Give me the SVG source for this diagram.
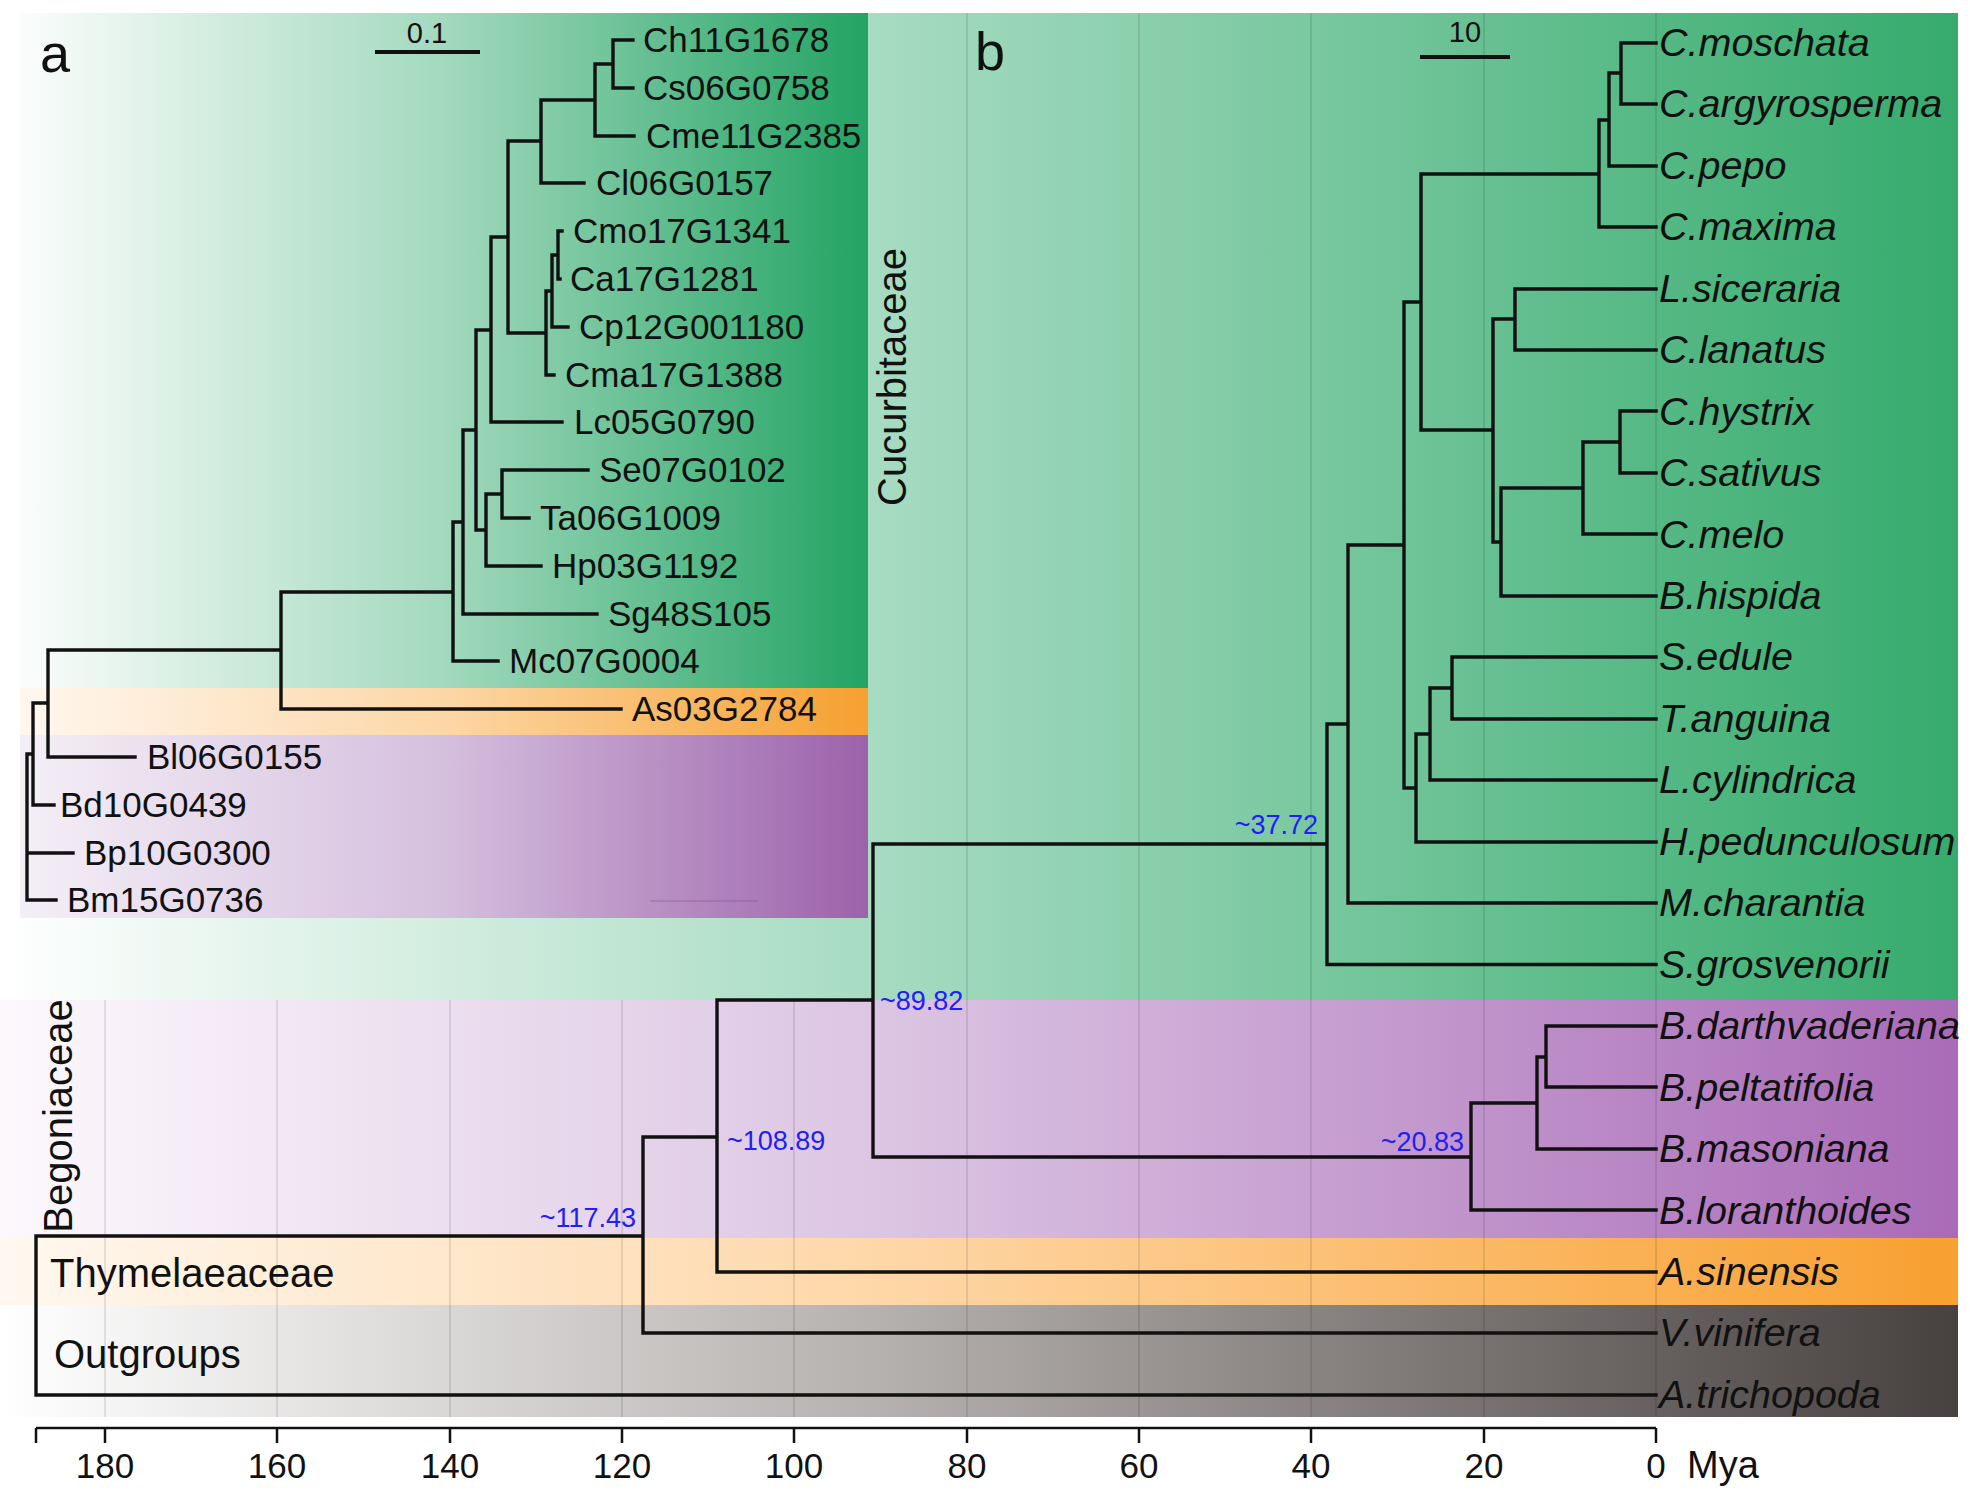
<svg xmlns="http://www.w3.org/2000/svg" width="1970" height="1501" viewBox="0 0 1970 1501">
<defs>
<linearGradient id="gGreenBig" x1="0" y1="0" x2="1" y2="0"><stop offset="0" stop-color="#ffffff"/><stop offset="0.44" stop-color="#a8dcc3"/><stop offset="1" stop-color="#36ab6d"/></linearGradient>
<linearGradient id="gGreenA" x1="0" y1="0" x2="1" y2="0"><stop offset="0" stop-color="#fbfdfc"/><stop offset="0.5" stop-color="#a3d9be"/><stop offset="1" stop-color="#23a364"/></linearGradient>
<linearGradient id="gOrangeA" x1="0" y1="0" x2="1" y2="0"><stop offset="0" stop-color="#fff7ef"/><stop offset="0.5" stop-color="#fcd7a6"/><stop offset="1" stop-color="#f6a030"/></linearGradient>
<linearGradient id="gPurpleA" x1="0" y1="0" x2="1" y2="0"><stop offset="0" stop-color="#f4eff6"/><stop offset="0.5" stop-color="#d5bfde"/><stop offset="1" stop-color="#9c62aa"/></linearGradient>
<linearGradient id="gPurple" x1="0" y1="0" x2="1" y2="0"><stop offset="0" stop-color="#fcf8fc"/><stop offset="0.45" stop-color="#dcc5e3"/><stop offset="1" stop-color="#a96bb7"/></linearGradient>
<linearGradient id="gOrange" x1="0" y1="0" x2="1" y2="0"><stop offset="0" stop-color="#fff8f0"/><stop offset="0.45" stop-color="#fed7a8"/><stop offset="1" stop-color="#f8a030"/></linearGradient>
<linearGradient id="gGray" x1="0" y1="0" x2="1" y2="0"><stop offset="0" stop-color="#ffffff"/><stop offset="0.45" stop-color="#b5b1af"/><stop offset="1" stop-color="#474140"/></linearGradient>
<style>
.t{font-family:"Liberation Sans",Arial,sans-serif;fill:#111}
.la{font-size:35px}
.lb{font-size:38px;font-style:italic}
.big{font-size:54px}
.grp{font-size:40px}
.sc{font-size:29px}
.ax{font-size:35px;text-anchor:middle}
.age{font-family:"Liberation Sans",Arial,sans-serif;font-size:27px;fill:#2020f5}
.br{fill:none;stroke:#111;stroke-width:3.4;stroke-linecap:square}
.grid{stroke:#000;stroke-opacity:0.13;stroke-width:1.5}
</style>
</defs>
<rect width="1970" height="1501" fill="#ffffff"/>
<g id="bands">
<rect x="0" y="13" width="1958" height="987" fill="url(#gGreenBig)"/>
<rect x="0" y="1000" width="1958" height="238" fill="url(#gPurple)"/>
<rect x="0" y="1238" width="1958" height="67" fill="url(#gOrange)"/>
<rect x="0" y="1305" width="1958" height="112" fill="url(#gGray)"/>
</g>
<g id="grid">
<line class="grid" x1="1656" y1="13" x2="1656" y2="1417"/>
<line class="grid" x1="1484" y1="13" x2="1484" y2="1417"/>
<line class="grid" x1="1311" y1="13" x2="1311" y2="1417"/>
<line class="grid" x1="1139" y1="13" x2="1139" y2="1417"/>
<line class="grid" x1="967" y1="13" x2="967" y2="1417"/>
<line class="grid" x1="794" y1="1000" x2="794" y2="1417"/>
<line class="grid" x1="622" y1="1000" x2="622" y2="1417"/>
<line class="grid" x1="450" y1="1000" x2="450" y2="1417"/>
<line class="grid" x1="277" y1="1000" x2="277" y2="1417"/>
<line class="grid" x1="105" y1="1000" x2="105" y2="1417"/>
</g>
<g id="panel-a-bg">
<rect x="20" y="13" width="848" height="675" fill="url(#gGreenA)"/>
<rect x="20" y="688" width="848" height="47" fill="url(#gOrangeA)"/>
<rect x="20" y="735" width="848" height="183" fill="url(#gPurpleA)"/>
<line x1="651" y1="901" x2="758" y2="901" stroke="#8a5a98" stroke-opacity="0.35" stroke-width="2"/>
</g>
<g id="connectors">
<path class="br" d="M633,40 H613 V88 H633 M613,64 H595 V136 H634 M595,100 H541 V183 H584 M562,231 H558 V279 H560 M558,255 H552 V327 H568 M552,291 H546 V375 H554 M541,141 H508 V333 H546 M508,237 H491 V422 H562 M588,470 H502 V518 H529 M502,494 H486 V566 H541 M491,330 H476 V530 H486 M476,430 H463 V614 H597 M463,522 H453 V661 H498 M453,592 H281 V709 H621 M281,650 H48 V757 H135 M48,703 H33 V805 H54 M33,754 H27 V900 H56 M27,853 H73"/>
<path class="br" d="M643,1236 H36 V1395 H1656 M717,1137 H643 V1333 H1656 M873,1000 H717 V1272 H1656 M1327,844 H873 V1157 H1471 M1537,1103 H1471 V1210 H1656 M1546,1057 H1537 V1149 H1656 M1656,1026 H1546 V1087 H1656 M1348,724 H1327 V964.5 H1656 M1404,545 H1348 V903 H1656 M1421,302 H1404 V788 H1416 M1430,734 H1416 V842 H1656 M1452,688 H1430 V780 H1656 M1656,657 H1452 V719 H1656 M1599,174 H1421 V430 H1493 M1609,120 H1599 V227 H1656 M1621,73 H1609 V166 H1656 M1656,43 H1621 V104 H1656 M1515,319 H1493 V542 H1501 M1656,289 H1515 V350 H1656 M1583,488 H1501 V596 H1656 M1620,442 H1583 V534 H1656 M1656,411 H1620 V473 H1656"/>
</g>
<g id="scalebars">
<line x1="375" y1="52" x2="480" y2="52" stroke="#111" stroke-width="4"/>
<text class="t sc" x="427" y="43" text-anchor="middle">0.1</text>
<line x1="1420" y1="57" x2="1510" y2="57" stroke="#111" stroke-width="4"/>
<text class="t sc" x="1465" y="42" text-anchor="middle">10</text>
</g>
<g id="panel-labels">
<text class="t big" x="40" y="72">a</text>
<text class="t big" x="975" y="70">b</text>
</g>
<g id="family-labels">
<text class="t grp" transform="translate(906,377) rotate(-90)" text-anchor="middle">Cucurbitaceae</text>
<text class="t grp" transform="translate(72,1116) rotate(-90)" text-anchor="middle">Begoniaceae</text>
<g id="Thymelaeaceae"><text class="t grp" x="50" y="1287">Thymelaeaceae</text></g>
<g id="Outgroups"><text class="t grp" x="54" y="1368">Outgroups</text></g>
</g>
<g id="panel-a-leaves">
<g id="Ch11G1678"><text class="t la" x="643" y="52">Ch11G1678</text></g>
<g id="Cs06G0758"><text class="t la" x="643" y="100">Cs06G0758</text></g>
<g id="Cme11G2385"><text class="t la" x="646" y="148">Cme11G2385</text></g>
<g id="Cl06G0157"><text class="t la" x="596" y="195">Cl06G0157</text></g>
<g id="Cmo17G1341"><text class="t la" x="573" y="243">Cmo17G1341</text></g>
<g id="Ca17G1281"><text class="t la" x="570" y="291">Ca17G1281</text></g>
<g id="Cp12G001180"><text class="t la" x="579" y="339">Cp12G001180</text></g>
<g id="Cma17G1388"><text class="t la" x="565" y="387">Cma17G1388</text></g>
<g id="Lc05G0790"><text class="t la" x="574" y="434">Lc05G0790</text></g>
<g id="Se07G0102"><text class="t la" x="599" y="482">Se07G0102</text></g>
<g id="Ta06G1009"><text class="t la" x="540" y="530">Ta06G1009</text></g>
<g id="Hp03G1192"><text class="t la" x="552" y="578">Hp03G1192</text></g>
<g id="Sg48S105"><text class="t la" x="608" y="626">Sg48S105</text></g>
<g id="Mc07G0004"><text class="t la" x="509" y="673">Mc07G0004</text></g>
<g id="As03G2784"><text class="t la" x="632" y="721">As03G2784</text></g>
<g id="Bl06G0155"><text class="t la" x="147" y="769">Bl06G0155</text></g>
<g id="Bd10G0439"><text class="t la" x="60" y="817">Bd10G0439</text></g>
<g id="Bp10G0300"><text class="t la" x="84" y="865">Bp10G0300</text></g>
<g id="Bm15G0736"><text class="t la" x="67" y="912">Bm15G0736</text></g>
</g>
<g id="panel-b-leaves" transform="translate(1659,0) scale(1.04,1)">
<g id="C.moschata"><text class="t lb" x="0" y="56">C.moschata</text></g>
<g id="C.argyrosperma"><text class="t lb" x="0" y="117.5">C.argyrosperma</text></g>
<g id="C.pepo"><text class="t lb" x="0" y="178.9">C.pepo</text></g>
<g id="C.maxima"><text class="t lb" x="0" y="240.4">C.maxima</text></g>
<g id="L.siceraria"><text class="t lb" x="0" y="301.8">L.siceraria</text></g>
<g id="C.lanatus"><text class="t lb" x="0" y="363.3">C.lanatus</text></g>
<g id="C.hystrix"><text class="t lb" x="0" y="424.7">C.hystrix</text></g>
<g id="C.sativus"><text class="t lb" x="0" y="486.2">C.sativus</text></g>
<g id="C.melo"><text class="t lb" x="0" y="547.6">C.melo</text></g>
<g id="B.hispida"><text class="t lb" x="0" y="609.1">B.hispida</text></g>
<g id="S.edule"><text class="t lb" x="0" y="670.5">S.edule</text></g>
<g id="T.anguina"><text class="t lb" x="0" y="732">T.anguina</text></g>
<g id="L.cylindrica"><text class="t lb" x="0" y="793.4">L.cylindrica</text></g>
<g id="H.pedunculosum"><text class="t lb" x="0" y="854.9">H.pedunculosum</text></g>
<g id="M.charantia"><text class="t lb" x="0" y="916.3">M.charantia</text></g>
<g id="S.grosvenorii"><text class="t lb" x="0" y="977.8">S.grosvenorii</text></g>
<g id="B.darthvaderiana"><text class="t lb" x="0" y="1039.2">B.darthvaderiana</text></g>
<g id="B.peltatifolia"><text class="t lb" x="0" y="1100.7">B.peltatifolia</text></g>
<g id="B.masoniana"><text class="t lb" x="0" y="1162.1">B.masoniana</text></g>
<g id="B.loranthoides"><text class="t lb" x="0" y="1223.6">B.loranthoides</text></g>
<g id="A.sinensis"><text class="t lb" x="0" y="1285">A.sinensis</text></g>
<g id="V.vinifera"><text class="t lb" x="0" y="1346.5">V.vinifera</text></g>
<g id="A.trichopoda"><text class="t lb" x="0" y="1407.9">A.trichopoda</text></g>
</g>
<g id="node-ages">
<text class="age" x="1318" y="834" text-anchor="end">~37.72</text>
<text class="age" x="880" y="1010">~89.82</text>
<text class="age" x="727" y="1150">~108.89</text>
<text class="age" x="636" y="1227" text-anchor="end">~117.43</text>
<text class="age" x="1464" y="1151" text-anchor="end">~20.83</text>
</g>
<g id="axis">
<path d="M36,1428 H1656 M36,1428 V1443 M105,1428 V1443 M277,1428 V1443 M450,1428 V1443 M622,1428 V1443 M794,1428 V1443 M967,1428 V1443 M1139,1428 V1443 M1311,1428 V1443 M1484,1428 V1443 M1656,1428 V1443" fill="none" stroke="#111" stroke-width="2.5"/>
<text class="t ax" x="105" y="1478">180</text>
<text class="t ax" x="277" y="1478">160</text>
<text class="t ax" x="450" y="1478">140</text>
<text class="t ax" x="622" y="1478">120</text>
<text class="t ax" x="794" y="1478">100</text>
<text class="t ax" x="967" y="1478">80</text>
<text class="t ax" x="1139" y="1478">60</text>
<text class="t ax" x="1311" y="1478">40</text>
<text class="t ax" x="1484" y="1478">20</text>
<text class="t ax" x="1656" y="1478">0</text>
<text class="t" x="1687" y="1478" font-size="38">Mya</text>
</g>
</svg>
